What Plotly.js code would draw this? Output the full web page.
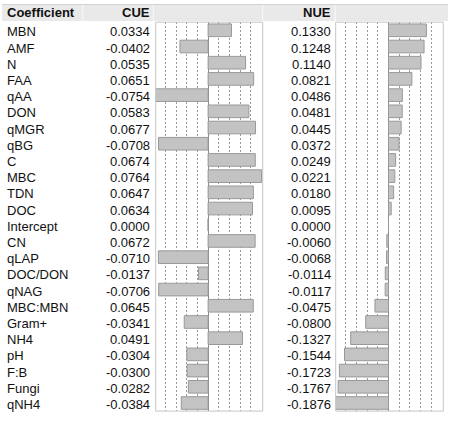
<!DOCTYPE html>
<html>
<head>
<meta charset="utf-8">
<script src="https://cdn.plot.ly/plotly-3.0.1.min.js"></script>
<style>
  html, body { margin: 0; padding: 0; background: #fff; }
  #chart { width: 459px; height: 422px; }
</style>
</head>
<body>
<div id="chart"></div>
<script>
// Scaled estimates of each term for the two responses
const terms = ['MBN', 'AMF', 'N', 'FAA', 'qAA', 'DON', 'qMGR', 'qBG', 'C', 'MBC', 'TDN', 'DOC',
  'Intercept', 'CN', 'qLAP', 'DOC/DON', 'qNAG', 'MBC:MBN', 'Gram+', 'NH4', 'pH', 'F:B', 'Fungi', 'qNH4'];
const cue = [0.0334, -0.0402, 0.0535, 0.0651, -0.0754, 0.0583, 0.0677, -0.0708, 0.0674, 0.0764, 0.0647, 0.0634,
  0.0000, 0.0672, -0.0710, -0.0137, -0.0706, 0.0645, -0.0341, 0.0491, -0.0304, -0.0300, -0.0282, -0.0384];
const nue = [0.1330, 0.1248, 0.1140, 0.0821, 0.0486, 0.0481, 0.0445, 0.0372, 0.0249, 0.0221, 0.0180, 0.0095,
  0.0000, -0.0060, -0.0068, -0.0114, -0.0117, -0.0475, -0.0800, -0.1327, -0.1544, -0.1723, -0.1767, -0.1876];
const headers = ['Coefficient', 'CUE', 'NUE'];
// reference lines at fractions of the largest absolute estimate
const gridFractions = [-0.8, -0.6, -0.4, -0.2, 0.2, 0.4, 0.6, 0.8];

const W = 459, H = 422;
const px = v => v / W;          // horizontal pixel -> paper
const py = v => 1 - v / H;      // vertical pixel -> paper
const FONT = '"Liberation Sans", Arial, Helvetica, sans-serif';

const maxAbs = arr => Math.max(...arr.map(Math.abs));
const cueStep = 0.2 * maxAbs(cue);
const nueStep = 0.2 * maxAbs(nue);

const barStyle = { color: '#c3c3c3', line: { color: '#999999', width: 1 } };
const traces = [
  { type: 'bar', orientation: 'h', y: terms, x: cue, xaxis: 'x', yaxis: 'y',
    marker: barStyle, hoverinfo: 'skip' },
  { type: 'bar', orientation: 'h', y: terms, x: nue, xaxis: 'x2', yaxis: 'y',
    marker: barStyle, hoverinfo: 'skip' }
];

function panelAxis(domain, range, step) {
  return {
    domain: domain, range: range, anchor: 'y', fixedrange: true,
    tickmode: 'array', tickvals: gridFractions.map(f => f / 0.2 * step),
    showticklabels: false, ticks: '',
    showgrid: true, gridcolor: '#9a9a9a', gridwidth: 1, griddash: '2px,2px',
    zeroline: true, zerolinecolor: '#8a8a8a', zerolinewidth: 1,
    showline: false
  };
}

// header band and cell separators
const shapes = [
  { type: 'rect', xref: 'paper', yref: 'paper', x0: px(2), x1: px(448), y0: py(21), y1: py(4.5),
    fillcolor: '#e9e9e9', line: { width: 0 }, layer: 'below' },
  { type: 'line', xref: 'paper', yref: 'paper', x0: px(2), x1: px(448), y0: py(4.5), y1: py(4.5),
    line: { color: '#d2d2d2', width: 1 } }
];
[82.7, 153.3, 262.7, 335.2].forEach(x => shapes.push({
  type: 'line', xref: 'paper', yref: 'paper', x0: px(x), x1: px(x), y0: py(21), y1: py(5),
  line: { color: '#f7f7f7', width: 1.2 }
}));
// frames round the two bar panels
['x', 'x2'].forEach(ax => shapes.push({
  type: 'rect', xref: ax + ' domain', yref: 'y domain', x0: 0, x1: 1, y0: 0, y1: 1,
  line: { color: '#c6c6c6', width: 1 }, fillcolor: 'rgba(0,0,0,0)'
}));

const textFont = { family: FONT, size: 13, color: '#111111' };
const headFont = { family: FONT, size: 13, color: '#111111', weight: 'bold' };
const annotations = [
  { xref: 'paper', yref: 'paper', x: px(5), y: py(12.8), xanchor: 'left', yanchor: 'middle',
    text: '<b>' + headers[0] + '</b>', showarrow: false, font: headFont },
  { xref: 'paper', yref: 'paper', x: px(152), y: py(12.8), xanchor: 'right', yanchor: 'middle',
    text: '<b>' + headers[1] + '</b>', showarrow: false, font: headFont },
  { xref: 'paper', yref: 'paper', x: px(333), y: py(12.8), xanchor: 'right', yanchor: 'middle',
    text: '<b>' + headers[2] + '</b>', showarrow: false, font: headFont }
];
terms.forEach((t, i) => {
  annotations.push({ xref: 'paper', yref: 'y', x: px(5), y: t, yshift: -1.5, xanchor: 'left', yanchor: 'middle',
    text: t, showarrow: false, font: textFont });
  annotations.push({ xref: 'paper', yref: 'y', x: px(152), y: t, yshift: -1.5, xanchor: 'right', yanchor: 'middle',
    text: cue[i].toFixed(4), showarrow: false, font: textFont });
  annotations.push({ xref: 'paper', yref: 'y', x: px(333), y: t, yshift: -1.5, xanchor: 'right', yanchor: 'middle',
    text: nue[i].toFixed(4), showarrow: false, font: textFont });
});

const layout = {
  width: W, height: H,
  margin: { l: 0, r: 0, t: 0, b: 0, pad: 0 },
  paper_bgcolor: '#ffffff', plot_bgcolor: '#ffffff',
  showlegend: false,
  bargap: 0.22,
  font: { family: FONT, size: 13, color: '#111111' },
  xaxis: panelAxis([px(155.7), px(262.7)], [-(208.1 - 155.7) / 700, (262.7 - 208.1) / 700], cueStep),
  xaxis2: panelAxis([px(335.7), px(443.3)], [-(388.5 - 335.7) / 285, (443.3 - 388.5) / 285], nueStep),
  yaxis: {
    domain: [py(411.1), py(22.2)], type: 'category',
    categoryorder: 'array', categoryarray: terms,
    range: [terms.length - 0.5, -0.5],
    showticklabels: false, ticks: '', showgrid: false, zeroline: false, showline: false, fixedrange: true
  },
  shapes: shapes,
  annotations: annotations
};

Plotly.newPlot('chart', traces, layout, { displayModeBar: false, staticPlot: true });
</script>
</body>
</html>
